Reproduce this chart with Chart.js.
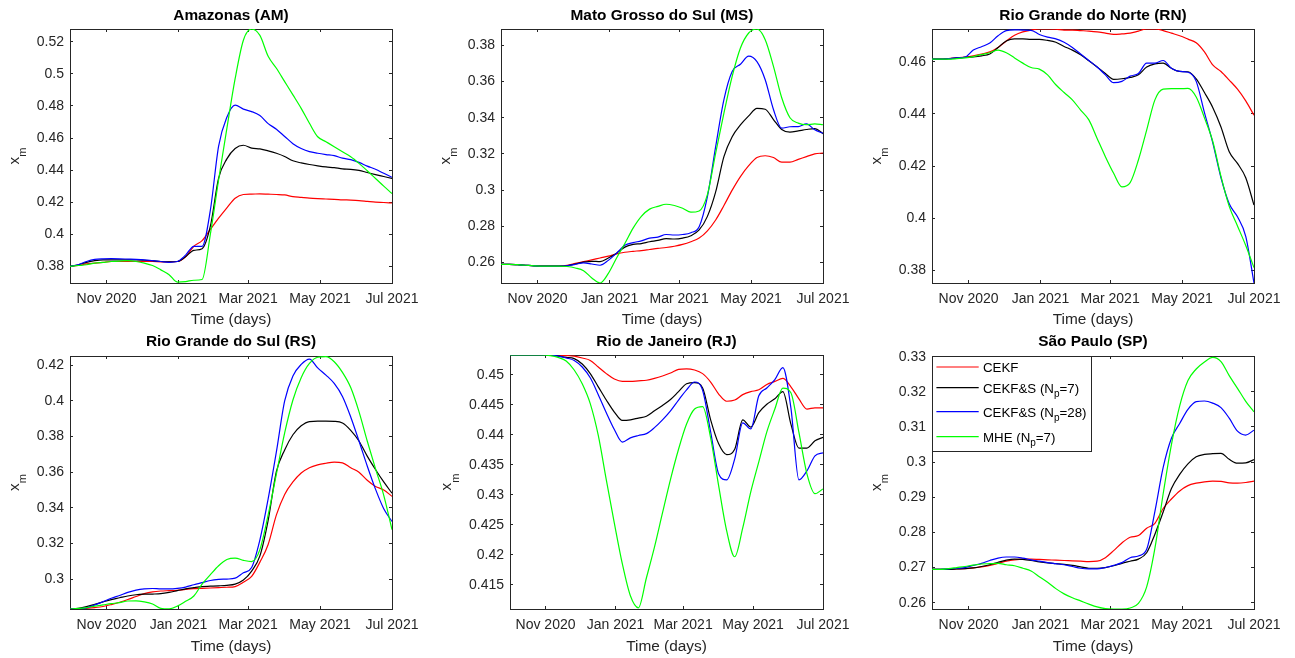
<!DOCTYPE html>
<html>
<head>
<meta charset="utf-8">
<script src="https://cdn.jsdelivr.net/npm/chart.js@4.4.1/dist/chart.umd.min.js"></script>
<style>
html,body{margin:0;padding:0;background:#fff;}
#wrap{position:relative;width:1295px;height:658px;overflow:hidden;background:#fff;}
.cell{position:absolute;}
</style>
</head>
<body>
<div id="wrap"></div>
<script>
// ---------------- data ----------------
const DAYS = [0,7,14,21,28,35,42,49,56,63,70,77,84,91,98,105,112,119,126,133,140,147,154,161,168,175,182,189,196,203,210,217,224,231,238,245,252,259,266,273]; // days since 1 Oct 2020
const X_TICKS = [31, 92, 151, 212, 273];
const X_TICK_LABELS = ['Nov 2020', 'Jan 2021', 'Mar 2021', 'May 2021', 'Jul 2021'];
const X_TITLE = 'Time (days)';
const Y_LABEL = 'x_{m}';
const SERIES_LABELS = ['CEKF', 'CEKF&S (N_{p}=7)', 'CEKF&S (N_{p}=28)', 'MHE (N_{p}=7)'];
const SERIES_COLORS = ['#ff0000', '#000000', '#0000ff', '#00ff00'];
const PANEL_TITLES = ['Amazonas (AM)', 'Mato Grosso do Sul (MS)', 'Rio Grande do Norte (RN)', 'Rio Grande do Sul (RS)', 'Rio de Janeiro (RJ)', 'São Paulo (SP)'];

const Y_MIN = [0.3696, 0.2487, 0.3751, 0.2832, 0.4110, 0.2582];
const Y_MAX = [0.5280, 0.3890, 0.4726, 0.4252, 0.4533, 0.3302];
const Y_TICKS_AM = [0.38, 0.40, 0.42, 0.44, 0.46, 0.48, 0.50, 0.52];
const Y_TICKS_MS = [0.26, 0.28, 0.30, 0.32, 0.34, 0.36, 0.38];
const Y_TICKS_RN = [0.38, 0.40, 0.42, 0.44, 0.46];
const Y_TICKS_RS = [0.30, 0.32, 0.34, 0.36, 0.38, 0.40, 0.42];
const Y_TICKS_RJ = [0.415, 0.42, 0.425, 0.43, 0.435, 0.44, 0.445, 0.45];
const Y_TICKS_SP = [0.26, 0.27, 0.28, 0.29, 0.30, 0.31, 0.32, 0.33];

const AM_CEKF = [0.3800,0.3805,0.3815,0.3820,0.3825,0.3830,0.3830,0.3830,0.3830,0.3830,0.3830,0.3828,0.3828,0.3830,0.3860,0.3925,0.3960,0.4030,0.4100,0.4165,0.4225,0.4248,0.4250,0.4252,0.4250,0.4248,0.4245,0.4235,0.4230,0.4225,0.4222,0.4220,0.4218,0.4215,0.4213,0.4210,0.4205,0.4200,0.4198,0.4195];
const AM_S7   = [0.3800,0.3810,0.3825,0.3835,0.3840,0.3840,0.3840,0.3840,0.3840,0.3838,0.3835,0.3830,0.3828,0.3830,0.3860,0.3900,0.3910,0.4050,0.4350,0.4470,0.4535,0.4555,0.4537,0.4532,0.4520,0.4505,0.4485,0.4458,0.4445,0.4435,0.4427,0.4420,0.4415,0.4408,0.4405,0.4398,0.4385,0.4372,0.4360,0.4348];
const AM_S28  = [0.3800,0.3810,0.3830,0.3843,0.3847,0.3848,0.3847,0.3845,0.3843,0.3840,0.3835,0.3830,0.3825,0.3830,0.3870,0.3925,0.3925,0.4150,0.4550,0.4730,0.4805,0.4780,0.4765,0.4740,0.4690,0.4655,0.4610,0.4565,0.4535,0.4515,0.4505,0.4497,0.4490,0.4475,0.4465,0.4448,0.4425,0.4405,0.4380,0.4355];
const AM_MHE  = [0.3800,0.3805,0.3810,0.3820,0.3825,0.3830,0.3833,0.3835,0.3830,0.3820,0.3805,0.3778,0.3748,0.3702,0.3705,0.3713,0.3718,0.4000,0.4340,0.4660,0.4970,0.5210,0.5280,0.5240,0.5110,0.5035,0.4952,0.4869,0.4785,0.4692,0.4608,0.4577,0.4546,0.4514,0.4483,0.4442,0.4396,0.4348,0.4300,0.4254];

const MS_CEKF = [0.2590,0.2590,0.2588,0.2585,0.2583,0.2582,0.2582,0.2582,0.2585,0.2595,0.2605,0.2615,0.2625,0.2635,0.2648,0.2657,0.2662,0.2666,0.2672,0.2678,0.2683,0.2690,0.2700,0.2715,0.2735,0.2775,0.2835,0.2915,0.3000,0.3075,0.3135,0.3180,0.3190,0.3180,0.3155,0.3155,0.3170,0.3185,0.3200,0.3205];
const MS_S7   = [0.2590,0.2590,0.2588,0.2585,0.2582,0.2580,0.2580,0.2580,0.2582,0.2592,0.2602,0.2607,0.2605,0.2625,0.2652,0.2685,0.2700,0.2705,0.2715,0.2722,0.2732,0.2730,0.2735,0.2748,0.2780,0.2855,0.2990,0.3185,0.3295,0.3360,0.3410,0.3452,0.3447,0.3390,0.3335,0.3320,0.3327,0.3335,0.3340,0.3312];
const MS_S28  = [0.2590,0.2590,0.2588,0.2585,0.2582,0.2580,0.2580,0.2580,0.2582,0.2590,0.2598,0.2592,0.2585,0.2612,0.2652,0.2695,0.2710,0.2720,0.2735,0.2740,0.2755,0.2752,0.2755,0.2765,0.2798,0.2964,0.3240,0.3500,0.3655,0.3695,0.3740,0.3710,0.3610,0.3445,0.3342,0.3350,0.3351,0.3366,0.3333,0.3314];
const MS_MHE  = [0.2590,0.2590,0.2588,0.2585,0.2582,0.2580,0.2580,0.2580,0.2578,0.2570,0.2555,0.2515,0.2487,0.2540,0.2625,0.2705,0.2790,0.2855,0.2895,0.2910,0.2922,0.2915,0.2900,0.2878,0.2885,0.2975,0.3205,0.3425,0.3628,0.3785,0.3868,0.3890,0.3831,0.3684,0.3510,0.3400,0.3370,0.3361,0.3366,0.3361];

const RN_CEKF = [0.4610,0.4610,0.4612,0.4615,0.4618,0.4623,0.4630,0.4638,0.4655,0.4680,0.4702,0.4715,0.4722,0.4726,0.4726,0.4725,0.4722,0.4722,0.4720,0.4718,0.4715,0.4710,0.4705,0.4707,0.4710,0.4718,0.4726,0.4726,0.4720,0.4710,0.4700,0.4687,0.4673,0.4638,0.4588,0.4563,0.4530,0.4495,0.4450,0.4395];
const RN_S7   = [0.4610,0.4610,0.4612,0.4615,0.4617,0.4619,0.4623,0.4630,0.4655,0.4680,0.4688,0.4688,0.4686,0.4686,0.4682,0.4675,0.4659,0.4645,0.4627,0.4604,0.4580,0.4555,0.4533,0.4535,0.4540,0.4550,0.4580,0.4592,0.4595,0.4575,0.4563,0.4562,0.4535,0.4482,0.4425,0.4350,0.4255,0.4210,0.4155,0.4050];
const RN_S28  = [0.4610,0.4610,0.4612,0.4615,0.4618,0.4645,0.4658,0.4672,0.4700,0.4720,0.4723,0.4722,0.4721,0.4705,0.4695,0.4688,0.4675,0.4655,0.4630,0.4605,0.4580,0.4550,0.4520,0.4525,0.4545,0.4555,0.4595,0.4595,0.4605,0.4575,0.4563,0.4560,0.4525,0.4405,0.4290,0.4155,0.4055,0.4005,0.3930,0.3751];
const RN_MHE  = [0.4610,0.4610,0.4610,0.4612,0.4615,0.4620,0.4628,0.4635,0.4645,0.4635,0.4615,0.4595,0.4578,0.4572,0.4550,0.4512,0.4482,0.4454,0.4415,0.4377,0.4306,0.4236,0.4172,0.4120,0.4136,0.4223,0.4338,0.4454,0.4495,0.4497,0.4497,0.4498,0.4465,0.4385,0.4295,0.4160,0.4045,0.3970,0.3895,0.3810];

const RS_CEKF = [0.2832,0.2833,0.2836,0.2840,0.2846,0.2857,0.2870,0.2885,0.2902,0.2918,0.2928,0.2933,0.2935,0.2937,0.2942,0.2946,0.2948,0.2950,0.2952,0.2954,0.2958,0.2982,0.3015,0.3095,0.3194,0.3360,0.3475,0.3545,0.3595,0.3625,0.3641,0.3650,0.3656,0.3652,0.3625,0.3600,0.3555,0.3520,0.3500,0.3464];
const RS_S7   = [0.2832,0.2836,0.2845,0.2858,0.2872,0.2885,0.2895,0.2905,0.2912,0.2915,0.2916,0.2918,0.2925,0.2935,0.2945,0.2952,0.2958,0.2960,0.2962,0.2965,0.2972,0.2995,0.3045,0.3130,0.3330,0.3604,0.3725,0.3810,0.3860,0.3884,0.3886,0.3886,0.3885,0.3876,0.3835,0.3775,0.3690,0.3615,0.3545,0.3482];
const RS_S28  = [0.2832,0.2833,0.2838,0.2855,0.2873,0.2892,0.2908,0.2925,0.2938,0.2945,0.2947,0.2945,0.2945,0.2948,0.2955,0.2968,0.2980,0.2992,0.2998,0.3000,0.3005,0.3035,0.3065,0.3220,0.3450,0.3715,0.4000,0.4140,0.4205,0.4235,0.4185,0.4145,0.4098,0.4025,0.3910,0.3775,0.3635,0.3505,0.3395,0.3323];
const RS_MHE  = [0.2832,0.2835,0.2840,0.2848,0.2855,0.2862,0.2868,0.2877,0.2878,0.2872,0.2860,0.2836,0.2833,0.2848,0.2875,0.2905,0.2972,0.3025,0.3075,0.3110,0.3118,0.3105,0.3098,0.3165,0.3360,0.3590,0.3820,0.4005,0.4130,0.4210,0.4245,0.4248,0.4220,0.4160,0.4075,0.3940,0.3775,0.3620,0.3470,0.3277];

const RJ_CEKF = [0.4533,0.4533,0.4533,0.4533,0.4533,0.4533,0.4533,0.4532,0.4531,0.4528,0.4524,0.4513,0.4502,0.4493,0.4489,0.4489,0.4490,0.4491,0.4494,0.4498,0.4503,0.4509,0.4510,0.4508,0.4502,0.4488,0.4468,0.4456,0.4458,0.4467,0.4472,0.4475,0.4484,0.4489,0.4494,0.4480,0.4460,0.4443,0.4445,0.4445];
const RJ_S7   = [0.4533,0.4533,0.4533,0.4533,0.4533,0.4533,0.4531,0.4529,0.4527,0.4518,0.4502,0.4480,0.4458,0.4438,0.4424,0.4425,0.4428,0.4431,0.4440,0.4449,0.4459,0.4472,0.4485,0.4487,0.4478,0.4425,0.4385,0.4367,0.4376,0.4425,0.4413,0.4437,0.4451,0.4460,0.4472,0.4418,0.4378,0.4378,0.4390,0.4396];
const RJ_S28  = [0.4533,0.4533,0.4533,0.4533,0.4533,0.4533,0.4531,0.4528,0.4524,0.4513,0.4495,0.4467,0.4437,0.4409,0.4388,0.4395,0.4399,0.4402,0.4412,0.4425,0.4440,0.4458,0.4475,0.4488,0.4474,0.4405,0.4335,0.4325,0.4360,0.4420,0.4410,0.4465,0.4478,0.4492,0.4512,0.4445,0.4325,0.4340,0.4365,0.4370];
const RJ_MHE  = [0.4533,0.4533,0.4533,0.4533,0.4533,0.4532,0.4529,0.4523,0.4508,0.4485,0.4452,0.4399,0.4325,0.4253,0.4185,0.4132,0.4112,0.4162,0.4213,0.4270,0.4326,0.4376,0.4418,0.4443,0.4447,0.4395,0.4315,0.4240,0.4197,0.4245,0.4305,0.4355,0.4405,0.4443,0.4478,0.4470,0.4404,0.4335,0.4302,0.4310];

const SP_CEKF = [0.2695,0.2695,0.2695,0.2696,0.2697,0.2699,0.2702,0.2706,0.2712,0.2718,0.2722,0.2724,0.2724,0.2723,0.2722,0.2721,0.2720,0.2719,0.2718,0.2717,0.2718,0.2728,0.2748,0.2770,0.2786,0.2791,0.2812,0.2826,0.2868,0.2895,0.2918,0.2933,0.2940,0.2944,0.2946,0.2945,0.2941,0.2940,0.2942,0.2946];
const SP_S7   = [0.2695,0.2695,0.2695,0.2696,0.2697,0.2699,0.2703,0.2708,0.2715,0.2721,0.2724,0.2723,0.2720,0.2716,0.2713,0.2711,0.2709,0.2706,0.2702,0.2698,0.2698,0.2700,0.2705,0.2712,0.2718,0.2724,0.2742,0.2795,0.2858,0.2925,0.2965,0.2995,0.3015,0.3022,0.3024,0.3025,0.3008,0.2997,0.2998,0.3007];
const SP_S28  = [0.2695,0.2695,0.2696,0.2698,0.2700,0.2706,0.2712,0.2720,0.2727,0.2730,0.2730,0.2727,0.2722,0.2718,0.2714,0.2711,0.2708,0.2703,0.2698,0.2696,0.2696,0.2700,0.2706,0.2714,0.2728,0.2733,0.2752,0.2860,0.2985,0.3068,0.3110,0.3150,0.3172,0.3174,0.3168,0.3155,0.3125,0.3088,0.3077,0.3091];
const SP_MHE  = [0.2695,0.2695,0.2697,0.2700,0.2703,0.2707,0.2710,0.2711,0.2712,0.2708,0.2705,0.2698,0.2690,0.2674,0.2658,0.2640,0.2625,0.2614,0.2605,0.2596,0.2588,0.2583,0.2582,0.2582,0.2585,0.2598,0.2645,0.2755,0.2910,0.3050,0.3160,0.3232,0.3265,0.3285,0.3298,0.3286,0.3246,0.3210,0.3173,0.3143];

const PANEL_SERIES = [
  [AM_CEKF, AM_S7, AM_S28, AM_MHE],
  [MS_CEKF, MS_S7, MS_S28, MS_MHE],
  [RN_CEKF, RN_S7, RN_S28, RN_MHE],
  [RS_CEKF, RS_S7, RS_S28, RS_MHE],
  [RJ_CEKF, RJ_S7, RJ_S28, RJ_MHE],
  [SP_CEKF, SP_S7, SP_S28, SP_MHE]
];
const PANEL_Y_TICKS = [Y_TICKS_AM, Y_TICKS_MS, Y_TICKS_RN, Y_TICKS_RS, Y_TICKS_RJ, Y_TICKS_SP];

// ---------------- layout / style ----------------
const FONT = '"Liberation Sans", Arial, Helvetica, sans-serif';
const AX = '#262626';
const CELLS = [[0,0,432,329],[432,0,432,329],[864,0,431,329],[0,329,432,329],[432,329,432,329],[864,329,431,329]];
const PLOTS = [[70,29,392,283],[501,29,823,283],[932,29,1254,283],[70,356,392,609],[510,355,823,609],[932,356,1254,609]];
const TITLE_Y = [15.3, 15.3, 15.3, 13.2, 13.2, 13.2];      // relative to cell top
const XTITLE_PAD = [1.8, 1.8, 1.8, 3.8, 3.8, 3.8];
const LEGEND_PANEL = 5;

Chart.defaults.font.family = FONT;

function richParts(str) {
  const parts = str.split(/_\{([^}]*)\}/);
  return parts.map((p, i) => ({ text: p, sub: i % 2 === 1 })).filter(p => p.text);
}
function richWidth(ctx, str, size, subSize) {
  let w = 0;
  richParts(str).forEach(p => { ctx.font = (p.sub ? subSize : size) + 'px ' + FONT; w += ctx.measureText(p.text).width; });
  return w;
}
function drawRich(ctx, str, x, y, size, subSize, subShift) {
  let cx = x;
  richParts(str).forEach(p => {
    ctx.font = (p.sub ? subSize : size) + 'px ' + FONT;
    ctx.fillText(p.text, cx, p.sub ? y + subShift : y);
    cx += ctx.measureText(p.text).width;
  });
}

const decor = {
  id: 'decor',
  afterDraw(chart, args, o) {
    const ctx = chart.ctx, ca = chart.chartArea;
    ctx.save();
    // title
    ctx.fillStyle = '#000';
    ctx.font = 'bold 15.4px ' + FONT;
    ctx.textAlign = 'center';
    ctx.textBaseline = 'middle';
    ctx.fillText(o.title, (ca.left + ca.right) / 2, o.titleY);
    // y label with subscript
    const ys = chart.scales.y;
    ctx.font = '14px ' + FONT;
    let widest = 0;
    ys.ticks.forEach(t => { widest = Math.max(widest, ctx.measureText(String(t.label)).width); });
    const bx = ca.left - 6 - widest - 17.5;
    ctx.translate(bx, (ca.top + ca.bottom) / 2);
    ctx.rotate(-Math.PI / 2);
    ctx.textAlign = 'left';
    ctx.textBaseline = 'alphabetic';
    ctx.fillStyle = AX;
    const w = richWidth(ctx, Y_LABEL, 15.4, 11);
    drawRich(ctx, Y_LABEL, -w / 2, 0, 15.4, 11, 7.2);
    ctx.restore();
    // legend
    if (o.legend) {
      ctx.save();
      const lx = Math.round(ca.left), ly = Math.round(ca.top);
      const LW = 159, LH = 95, rows = [11, 31.7, 55.7, 80.7];
      ctx.fillStyle = '#fff';
      ctx.fillRect(lx, ly, LW, LH);
      ctx.strokeStyle = AX; ctx.lineWidth = 1;
      ctx.strokeRect(lx + 0.5, ly + 0.5, LW, LH);
      ctx.textAlign = 'left'; ctx.textBaseline = 'alphabetic';
      chart.data.datasets.forEach((ds, k) => {
        const y = ly + rows[k];
        ctx.strokeStyle = ds.borderColor; ctx.lineWidth = 1.2;
        ctx.beginPath(); ctx.moveTo(lx + 4.4, y); ctx.lineTo(lx + 46.7, y); ctx.stroke();
        ctx.fillStyle = '#000';
        drawRich(ctx, ds.label, lx + 51, y + 4.8, 13.3, 10, 4.8);
      });
      ctx.restore();
    }
  }
};

const wrap = document.getElementById('wrap');

function makePanel(i) {
  const [cx, cy, cw, ch] = CELLS[i];
  const [pl, pt, pr, pb] = PLOTS[i];
  const padL = pl - cx, padT = pt - cy, padR = cx + cw - pr, padB = cy + ch - pb;
  const div = document.createElement('div');
  div.className = 'cell';
  div.style.left = cx + 'px'; div.style.top = cy + 'px';
  div.style.width = cw + 'px'; div.style.height = ch + 'px';
  const cv = document.createElement('canvas');
  div.appendChild(cv);
  wrap.appendChild(div);

  const yTicks = PANEL_Y_TICKS[i];
  const gridOpts = { display: true, drawOnChartArea: false, drawTicks: true, tickLength: -3, color: AX, lineWidth: 1 };
  const borderOpts = { display: true, color: AX, width: 1 };
  const tickFont = { family: FONT, size: 14 };

  new Chart(cv, {
    type: 'line',
    data: {
      datasets: PANEL_SERIES[i].map((vals, k) => ({
        label: SERIES_LABELS[k],
        data: DAYS.map((d, j) => ({ x: d, y: vals[j] })),
        borderColor: SERIES_COLORS[k],
        backgroundColor: SERIES_COLORS[k],
        borderWidth: 1.2,
        pointRadius: 0,
        fill: false,
        cubicInterpolationMode: 'monotone',
        order: 3 - k
      }))
    },
    options: {
      responsive: true,
      maintainAspectRatio: false,
      animation: false,
      devicePixelRatio: 1,
      events: [],
      layout: { padding: { top: padT, right: padR, bottom: 0, left: 0 } },
      plugins: {
        legend: { display: false },
        tooltip: { enabled: false },
        title: { display: false },
        decor: { title: PANEL_TITLES[i], titleY: TITLE_Y[i], legend: i === LEGEND_PANEL }
      },
      scales: {
        x: {
          type: 'linear', position: 'bottom', min: 0, max: 273, bounds: 'data',
          afterBuildTicks: s => { s.ticks = X_TICKS.map(v => ({ value: v })); },
          afterFit: s => { s.height = padB; s.paddingLeft = 0; s.paddingRight = 0; },
          ticks: { autoSkip: false, maxRotation: 0, minRotation: 0, padding: 10.6, color: AX, font: tickFont,
                   callback: (v, idx) => X_TICK_LABELS[idx] },
          grid: gridOpts, border: borderOpts,
          title: { display: true, text: X_TITLE, color: AX, font: { family: FONT, size: 15.4, lineHeight: 1 },
                   padding: { top: 0, bottom: XTITLE_PAD[i] } }
        },
        x2: {
          type: 'linear', position: 'top', min: 0, max: 273, bounds: 'data',
          afterBuildTicks: s => { s.ticks = X_TICKS.map(v => ({ value: v })); },
          afterFit: s => { s.height = 0; s.paddingLeft = 0; s.paddingRight = 0; },
          ticks: { display: false, autoSkip: false },
          grid: gridOpts, border: borderOpts
        },
        y: {
          type: 'linear', position: 'left', min: Y_MIN[i], max: Y_MAX[i], bounds: 'data',
          afterBuildTicks: s => { s.ticks = yTicks.map(v => ({ value: v })); },
          afterFit: s => { s.width = padL; s.paddingTop = 0; s.paddingBottom = 0; },
          ticks: { autoSkip: false, padding: 9, color: AX, font: tickFont,
                   callback: v => String(Math.round(v * 10000) / 10000) },
          grid: gridOpts, border: borderOpts
        },
        y2: {
          type: 'linear', position: 'right', min: Y_MIN[i], max: Y_MAX[i], bounds: 'data',
          afterBuildTicks: s => { s.ticks = yTicks.map(v => ({ value: v })); },
          afterFit: s => { s.width = 0; s.paddingTop = 0; s.paddingBottom = 0; },
          ticks: { display: false, autoSkip: false },
          grid: gridOpts, border: borderOpts
        }
      }
    },
    plugins: [decor]
  });
}

for (let i = 0; i < 6; i++) makePanel(i);
</script>
</body>
</html>
